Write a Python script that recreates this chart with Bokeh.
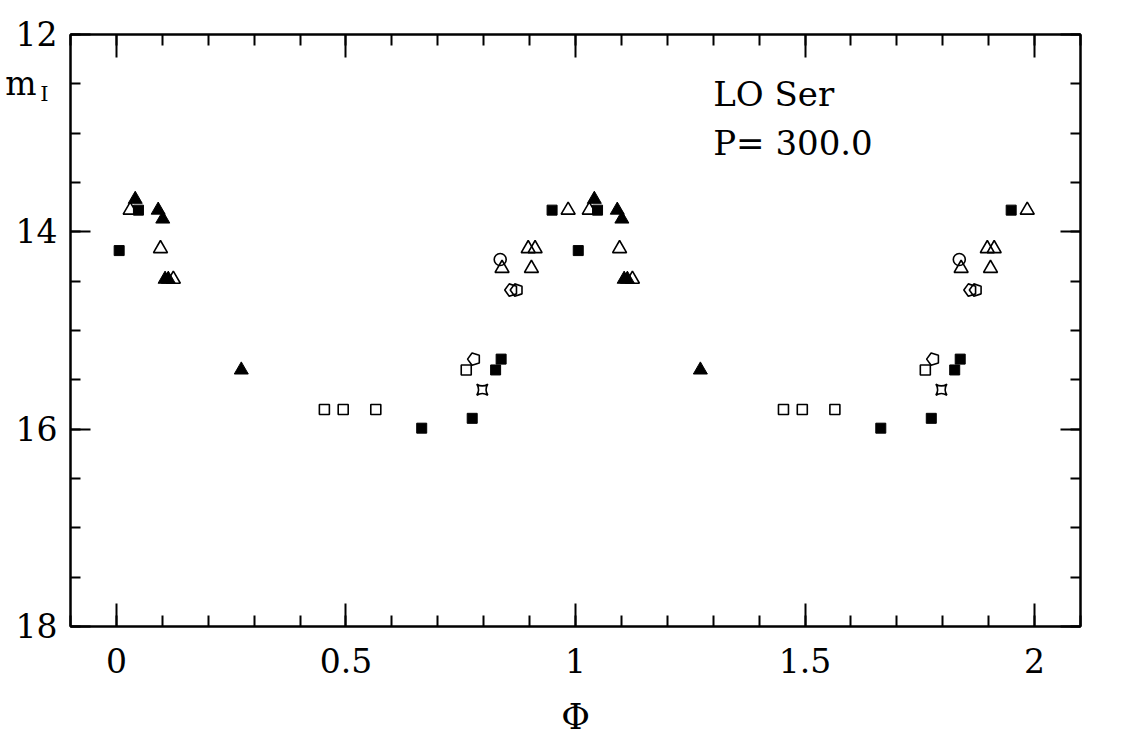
import numpy as np
from bokeh.plotting import figure
from bokeh.models import LinearAxis, FixedTicker, Range1d, Label
from bokeh.embed import file_html
from bokeh.resources import INLINE

# ---- data: phase (0..1) and I magnitude, per marker type ----
fsq_phase = [0.006, 0.048, 0.665, 0.775, 0.826, 0.838, 0.949]
fsq_mag = [14.19, 13.78, 15.99, 15.89, 15.40, 15.29, 13.78]

ftri_phase = [0.041, 0.091, 0.101, 0.106, 0.113, 0.272]
ftri_mag = [13.67, 13.78, 13.87, 14.48, 14.48, 15.40]

otri_phase = [0.030, 0.096, 0.124, 0.840, 0.897, 0.912, 0.904, 0.984]
otri_mag = [13.78, 14.17, 14.48, 14.37, 14.17, 14.17, 14.37, 13.78]

osq_phase = [0.453, 0.494, 0.565, 0.762]
osq_mag = [15.80, 15.80, 15.80, 15.40]

ocirc_phase = [0.836]
ocirc_mag = [14.28]

pent_phase = [0.779, 0.860, 0.872]
pent_mag = [15.29, 14.59, 14.59]

pin_phase = [0.797]
pin_mag = [15.60]

x_major = [0, 0.5, 1, 1.5, 2]
x_minor = [round(0.1 * i, 1) for i in range(-1, 22)]
y_major = [12, 14, 16, 18]
y_minor = [12 + 0.5 * i for i in range(13)]

star_name = "LO Ser"
period_text = "P= 300.0"
y_label_main = "m"
y_label_sub = "I"
x_label = "Φ"

FONT = "DejaVu Serif"


def two_cycles(phase, mag):
    ph = np.asarray(phase, dtype=float)
    mg = np.asarray(mag, dtype=float)
    return np.concatenate([ph, ph + 1.0]), np.concatenate([mg, mg])


p = figure(frame_width=1010, frame_height=592,
           x_range=Range1d(-0.1, 2.1), y_range=Range1d(18, 12),
           output_backend="svg", toolbar_location=None,
           min_border_left=70, min_border_right=60,
           min_border_top=34, min_border_bottom=104,
           background_fill_color="white", border_fill_color="white")
p.grid.visible = False
p.outline_line_color = "black"
p.outline_line_width = 2


def style_axis(ax, ticks, minors, tin, tmin, show_labels):
    ax.ticker = FixedTicker(ticks=ticks, minor_ticks=minors)
    ax.axis_line_color = "black"
    ax.axis_line_width = 2
    ax.major_tick_in = tin
    ax.major_tick_out = 0
    ax.minor_tick_in = tmin
    ax.minor_tick_out = 0
    ax.major_tick_line_width = 2
    ax.minor_tick_line_width = 2
    ax.major_tick_line_color = "black"
    ax.minor_tick_line_color = "black"
    ax.major_label_text_font = FONT
    ax.major_label_text_font_size = "33px" if show_labels else "0px"
    ax.major_label_text_color = "black"
    if not show_labels:
        ax.major_label_text_alpha = 0
        ax.major_label_standoff = 0


def label_only_axis(ticks, overrides, size, standoff):
    ax = LinearAxis(ticker=FixedTicker(ticks=ticks, minor_ticks=[]))
    ax.axis_line_color = None
    ax.major_tick_in = 0
    ax.major_tick_out = 0
    ax.minor_tick_in = 0
    ax.minor_tick_out = 0
    ax.major_tick_line_color = None
    ax.minor_tick_line_color = None
    ax.major_label_overrides = overrides
    ax.major_label_text_font = FONT
    ax.major_label_text_font_size = size
    ax.major_label_text_color = "black"
    ax.major_label_standoff = standoff
    return ax


# bottom axis
xa = p.xaxis[0]
style_axis(xa, x_major, x_minor, 23, 11, True)
xa.major_label_standoff = 21
xa.major_label_overrides = {0: "0", 1: "1", 2: "2"}
xa.axis_label = x_label
xa.axis_label_text_font = FONT
xa.axis_label_text_font_style = "normal"
xa.axis_label_text_font_size = "35px"
xa.axis_label_text_color = "black"
xa.axis_label_standoff = 21

# left: ticks only (innermost)
ya = p.yaxis[0]
style_axis(ya, y_major, y_minor, 20, 10, False)

# left: subscript "I" of the y label
sub_ax = label_only_axis([12.60], {12.60: y_label_sub}, "21px", 22)
p.add_layout(sub_ax, "left")

# left: numbers and the "m" of the y label
num_over = {t: str(t) for t in y_major}
num_over[12.5] = y_label_main + "\u00a0\u00a0"
num_ax = label_only_axis(y_major + [12.5], num_over, "33px", -20)
p.add_layout(num_ax, "left")

top = LinearAxis()
style_axis(top, x_major, x_minor, 23, 11, False)
p.add_layout(top, "above")
right = LinearAxis()
style_axis(right, y_major, y_minor, 20, 10, False)
p.add_layout(right, "right")

# ---- markers ----
x, y = two_cycles(otri_phase, otri_mag)
p.scatter(x, y, marker="triangle", size=14, fill_color=None,
          line_color="black", line_width=1.6)
x, y = two_cycles(osq_phase, osq_mag)
p.scatter(x, y, marker="square", size=10, fill_color=None,
          line_color="black", line_width=1.6)
x, y = two_cycles(ocirc_phase, ocirc_mag)
p.scatter(x, y, marker="circle", size=12, fill_color=None,
          line_color="black", line_width=1.6)
x, y = two_cycles(pin_phase, pin_mag)
p.scatter(x, y, marker="square_pin", size=11, fill_color=None,
          line_color="black", line_width=1.6)
x, y = two_cycles(pent_phase, pent_mag)
try:
    p.ngon(x=x, y=y, radius=6.5, radius_units="screen", n=5,
           angle=np.pi / 2, fill_color=None, line_color="black",
           line_width=1.6)
except Exception:
    p.scatter(x, y, marker="hex", size=13, fill_color=None,
              line_color="black", line_width=1.6)
x, y = two_cycles(fsq_phase, fsq_mag)
p.scatter(x, y, marker="square", size=10, fill_color="black",
          line_color="black", line_width=1)
x, y = two_cycles(ftri_phase, ftri_mag)
p.scatter(x, y, marker="triangle", size=14, fill_color="black",
          line_color="black", line_width=1)

# ---- texts in the frame ----
p.add_layout(Label(x=1.30, y=12.60, text=star_name, text_font=FONT,
                   text_font_size="34px", text_color="black",
                   text_baseline="alphabetic", text_align="left"))
p.add_layout(Label(x=1.30, y=13.10, text=period_text, text_font=FONT,
                   text_font_size="34px", text_color="black",
                   text_baseline="alphabetic", text_align="left"))

open("out.html", "w").write(file_html(p, INLINE))
